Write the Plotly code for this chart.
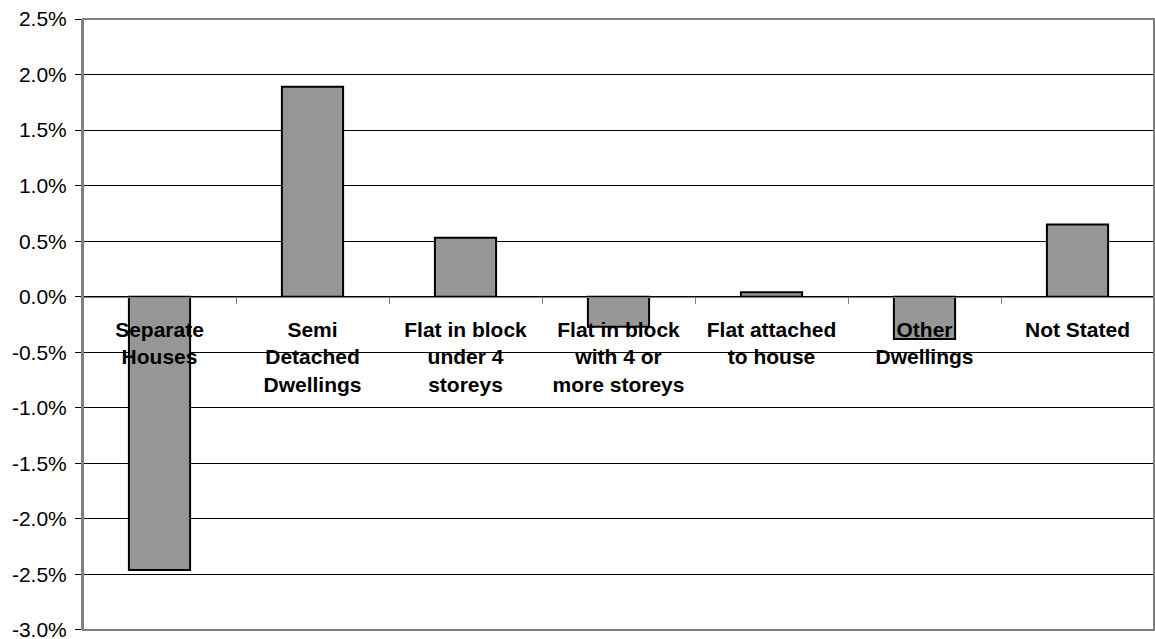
import plotly.graph_objects as go

# Change in share of dwellings by structure type (percentage points)
categories = [
    "Separate<br>Houses",
    "Semi<br>Detached<br>Dwellings",
    "Flat in block<br>under 4<br>storeys",
    "Flat in block<br>with 4 or<br>more storeys",
    "Flat attached<br>to house",
    "Other<br>Dwellings",
    "Not Stated",
]
change_pct = [-2.46, 1.89, 0.53, -0.27, 0.04, -0.38, 0.65]

y_tick_values = [-3.0, -2.5, -2.0, -1.5, -1.0, -0.5, 0.0, 0.5, 1.0, 1.5, 2.0, 2.5]
y_tick_labels = ["-3.0%", "-2.5%", "-2.0%", "-1.5%", "-1.0%", "-0.5%",
                 "0.0%", "0.5%", "1.0%", "1.5%", "2.0%", "2.5%"]

Y_MIN, Y_MAX = -3.0, 2.5
PAD = 0.0005  # keep end ticks inside the range
FONT = "Liberation Sans, Arial, sans-serif"
AXIS_GRAY = "#808080"

fig = go.Figure(
    go.Bar(
        x=categories,
        y=change_pct,
        marker=dict(color="#969696", line=dict(color="#000000", width=2)),
        hoverinfo="x+y",
    )
)

fig.update_layout(
    width=1155,
    height=639,
    margin=dict(l=83, r=1, t=19, b=9),
    paper_bgcolor="white",
    plot_bgcolor="white",
    bargap=0.6,
    showlegend=False,
    font=dict(family=FONT, color="#000000"),
    shapes=[
        dict(
            type="rect", xref="paper", yref="paper",
            x0=0, x1=1, y0=0, y1=1,
            line=dict(color=AXIS_GRAY, width=2),
            layer="above",
        )
    ],
)

# Category axis sits on the zero line
fig.update_xaxes(
    type="category",
    anchor="free",
    position=(0 - Y_MIN) / (Y_MAX - Y_MIN),
    automargin=False,
    showline=True,
    linecolor=AXIS_GRAY,
    linewidth=1,
    ticks="outside",
    tickson="boundaries",
    ticklen=6,
    tickcolor=AXIS_GRAY,
    showgrid=False,
    tickfont=dict(family=FONT, size=21, color="#000000", weight="bold"),
    ticklabelstandoff=14,
)

fig.update_yaxes(
    range=[Y_MIN - PAD, Y_MAX + PAD],
    automargin=False,
    tickvals=y_tick_values,
    ticktext=y_tick_labels,
    showline=True,
    linecolor=AXIS_GRAY,
    linewidth=2,
    ticks="outside",
    ticklen=6,
    tickcolor="#000000",
    showgrid=True,
    gridcolor="#000000",
    gridwidth=1,
    zeroline=False,
    tickfont=dict(family=FONT, size=21, color="#000000"),
    ticklabelstandoff=4,
    ticklabeloverflow="allow",
)

fig.write_html("out.html")
